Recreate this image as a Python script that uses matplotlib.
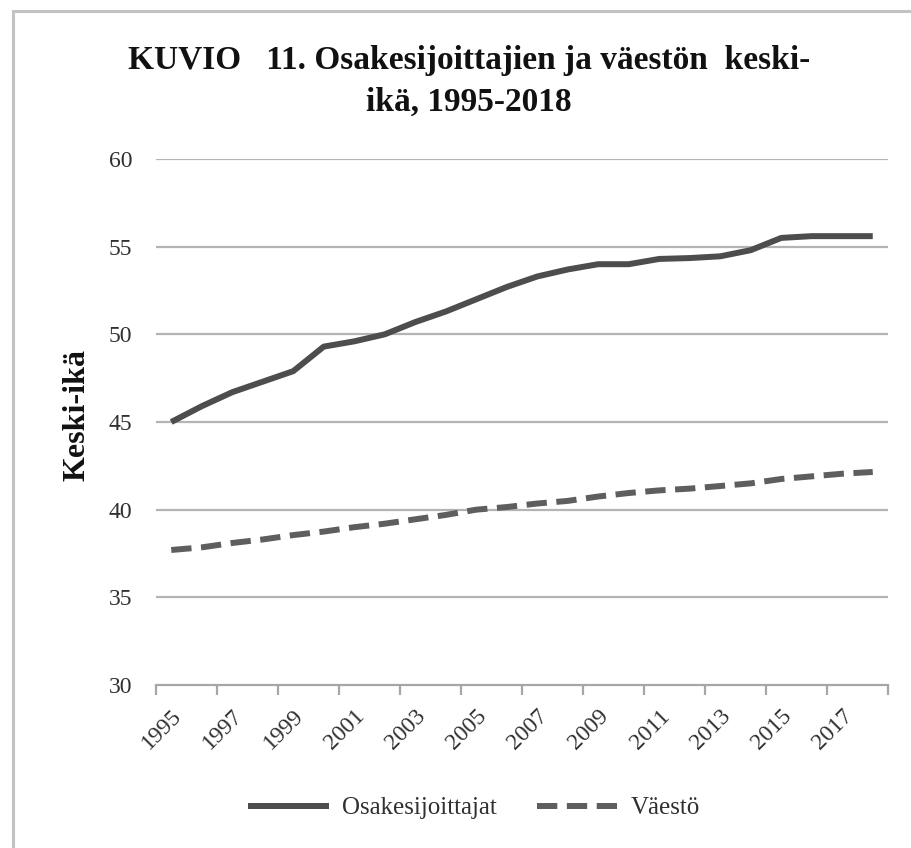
import matplotlib
matplotlib.use("Agg")
import matplotlib.pyplot as plt

# data
years = list(range(1995, 2019))
osakesijoittajat = [45.0, 45.9, 46.7, 47.3, 47.9, 49.3, 49.6, 50.0, 50.7, 51.3,
                    52.0, 52.7, 53.3, 53.7, 54.0, 54.0, 54.3, 54.35, 54.45, 54.8,
                    55.5, 55.6, 55.6, 55.6]
vaesto = [37.7, 37.85, 38.1, 38.3, 38.55, 38.75, 39.0, 39.2, 39.45, 39.7,
          40.0, 40.15, 40.35, 40.5, 40.75, 40.95, 41.1, 41.2, 41.35, 41.5,
          41.75, 41.9, 42.05, 42.15]
yticks = [30, 35, 40, 45, 50, 55, 60]

SERIF = ["Liberation Serif", "DejaVu Serif"]
GRID = "#b4b4b4"
TXT = "#303030"

fig = plt.figure(figsize=(9.12, 8.48), dpi=100)
fig.patch.set_facecolor("white")

# light frame visible on the top and left edges only
fig.add_artist(plt.Line2D([13 / 912, 13 / 912], [0, 1 - 11 / 848], transform=fig.transFigure,
                          color="#c3c3c3", lw=2.2))
fig.add_artist(plt.Line2D([13 / 912, 1], [1 - 11 / 848, 1 - 11 / 848], transform=fig.transFigure,
                          color="#c3c3c3", lw=2.2))

ax = fig.add_axes([156 / 912, 1 - 685 / 848, 732 / 912, 526 / 848])
xs = list(range(len(years)))
ax.plot(xs, osakesijoittajat, "-", color="#4d4d4d", lw=4.3, solid_capstyle="butt",
        label="Osakesijoittajat", zorder=3)
ax.plot(xs, vaesto, color="#5e5e5e", lw=4.3, ls=(0, (3.4, 1.6)), dash_capstyle="butt",
        label="Väestö", zorder=3)

ax.set_xlim(-0.5, len(years) - 0.5)
ax.set_ylim(30, 60)
ax.set_yticks(yticks)
for y in yticks[1:]:
    ax.axhline(y, color=GRID, lw=1.6, zorder=1)
for s in ["top", "right", "left"]:
    ax.spines[s].set_visible(False)
ax.spines["bottom"].set_color("#a6a6a6")
ax.spines["bottom"].set_linewidth(1.6)
ax.tick_params(axis="y", length=0, pad=17, labelsize=17, labelcolor=TXT)
for t in ax.get_yticklabels():
    t.set_family(SERIF)

# labels at every other category centre, tick marks on category boundaries
ax.set_xticks(xs[::2])
ax.set_xticklabels([str(y) for y in years[::2]], rotation=45, ha="right",
                   rotation_mode="anchor", family=SERIF, fontsize=17, color=TXT)
ax.tick_params(axis="x", length=0, pad=15)
ax.set_xticks([x - 0.5 for x in xs[::2]] + [len(years) - 0.5], minor=True)
ax.tick_params(axis="x", which="minor", length=7, width=1.6, color="#a6a6a6")

fig.text(469 / 912, 1 - 60 / 848, "KUVIO   11. Osakesijoittajien ja väestön  keski-",
         ha="center", va="center", family=SERIF, fontweight="bold", fontsize=24, color="#111111")
fig.text(469 / 912, 1 - 102 / 848, "ikä, 1995-2018",
         ha="center", va="center", family=SERIF, fontweight="bold", fontsize=24, color="#111111")
fig.text(77 / 912, 1 - 415 / 848, "Keski-ikä", rotation=90, ha="center", va="center",
         family=SERIF, fontweight="bold", fontsize=23, color="#111111")

fig.legend(loc="center", bbox_to_anchor=(474 / 912, 1 - 808 / 848), ncol=2, frameon=False,
           prop={"family": SERIF, "size": 18}, handlelength=3.25, handletextpad=0.5,
           columnspacing=1.6, labelcolor=TXT)

fig.savefig("out.png", dpi=100, facecolor="white")
